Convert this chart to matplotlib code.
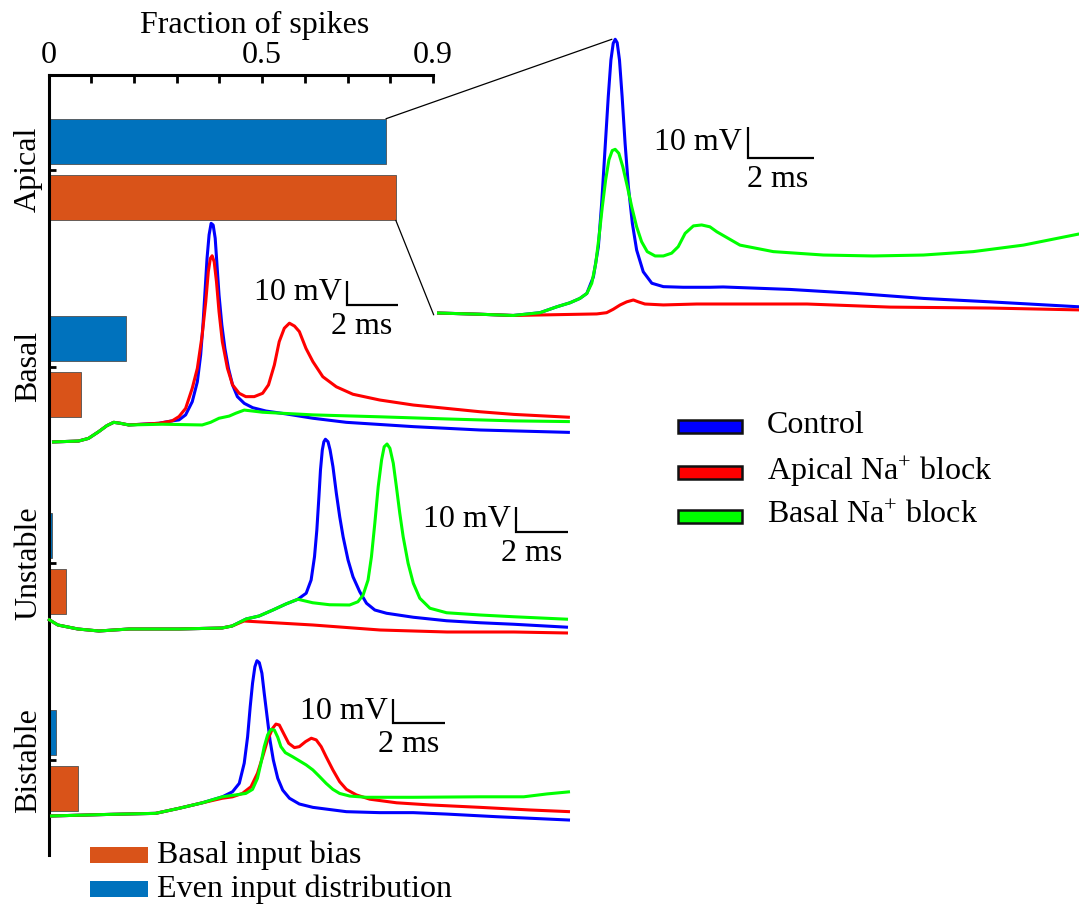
import numpy as np
import matplotlib
matplotlib.use("Agg")
import matplotlib.pyplot as plt
from matplotlib.patches import ConnectionPatch, Rectangle

plt.rcParams['font.family'] = ['Liberation Serif', 'DejaVu Serif']
plt.rcParams['mathtext.fontset'] = 'custom'
plt.rcParams['mathtext.rm'] = 'Liberation Serif'
plt.rcParams['mathtext.it'] = 'Liberation Serif:italic'

W, H = 1079, 905
FS = 23

# ---------------------------------------------------------------------------
# Bar data: fraction of spikes per condition
# ---------------------------------------------------------------------------
conditions = ['Apical', 'Basal', 'Unstable', 'Bistable']
even_frac = [0.790, 0.182, 0.009, 0.017]
bias_frac = [0.813, 0.075, 0.040, 0.070]
bar_labels = ['Basal input bias', 'Even input distribution']

# ---------------------------------------------------------------------------
# Voltage traces (t in ms, v in mV relative to rest)
# ctrl = Control, apna = Apical Na+ block, bana = Basal Na+ block
# ---------------------------------------------------------------------------
# Apical (magnified)
apical_t_ctrl = [0, 1.30, 2.31, 3.12, 3.63, 4.03, 4.33, 4.54, 4.74, 4.89, 4.99, 5.09, 5.19,
                 5.27, 5.34, 5.40, 5.46, 5.53, 5.61, 5.70, 5.80, 5.92, 6.05, 6.25, 6.51,
                 6.86, 7.46, 8.27, 8.67, 10.70, 12.72, 14.74, 16.76, 19.46]
apical_v_ctrl = [0, -0.4, -0.8, 0.1, 2.0, 3.3, 4.7, 6.3, 11.7, 21.4, 35.4, 52.6, 69.8,
                 81.6, 87.0, 88.3, 87.2, 81.6, 69.8, 54.7, 40.7, 28.9, 20.3, 13.3, 9.6,
                 8.5, 8.3, 8.3, 8.4, 7.6, 6.3, 4.7, 3.6, 2.0]
apical_t_apna = [0, 1.30, 2.31, 4.84, 5.14, 5.34, 5.55, 5.75, 5.95, 6.10, 6.30, 6.86, 7.87,
                 9.70, 11.21, 13.73, 16.76, 19.46]
apical_v_apna = [0, -0.4, -0.8, -0.3, 0.1, 1.2, 2.6, 3.6, 4.2, 3.6, 2.9, 2.6, 2.9,
                 2.9, 2.9, 1.9, 1.6, 1.0]
apical_t_bana = [0, 1.30, 2.31, 3.12, 3.63, 4.03, 4.33, 4.54, 4.69, 4.81, 4.91, 5.01, 5.11,
                 5.21, 5.31, 5.40, 5.51, 5.63, 5.77, 5.90, 6.05, 6.20, 6.37, 6.61, 6.86,
                 7.11, 7.31, 7.52, 7.77, 8.02, 8.27, 8.48, 9.18, 10.19, 11.71, 13.22, 14.74,
                 16.25, 17.77, 19.46]
apical_v_bana = [0, -0.4, -0.8, 0.1, 2.0, 3.3, 4.7, 6.3, 9.6, 16.0, 24.6, 34.3, 42.9,
                 49.4, 52.4, 52.8, 51.5, 47.2, 40.7, 34.3, 27.8, 23.0, 19.8, 18.4, 18.4,
                 19.3, 21.4, 25.7, 28.1, 28.4, 27.8, 26.2, 21.9, 19.8, 18.7, 18.4, 18.7,
                 19.8, 21.9, 25.5]

# Basal
basal_t_ctrl = [0, 1.04, 1.43, 1.83, 2.15, 2.42, 2.68, 3.01, 4.19, 4.71, 4.98, 5.24, 5.50,
                5.70, 5.83, 5.92, 6.00, 6.08, 6.16, 6.24, 6.32, 6.40, 6.47, 6.55, 6.66,
                6.78, 6.92, 7.08, 7.27, 7.54, 7.87, 8.39, 9.18, 10.23, 11.54, 14.17, 16.79,
                20.31]
basal_v_ctrl = [0, 0.4, 1.5, 4.3, 6.8, 8.2, 7.8, 7.1, 7.8, 8.8, 9.2, 11.3, 16.8,
                25.1, 36.3, 48.8, 62.6, 76.5, 86.3, 91.1, 90.4, 84.9, 73.8, 61.3, 48.8,
                39.0, 30.7, 23.8, 18.9, 16.1, 14.3, 12.9, 11.7, 9.9, 8.2, 6.4, 5.0,
                4.0]
basal_t_apna = [0, 1.04, 1.43, 1.83, 2.15, 2.42, 2.68, 3.01, 4.19, 4.71, 4.98, 5.24, 5.50,
                5.70, 5.89, 6.03, 6.13, 6.21, 6.28, 6.36, 6.45, 6.55, 6.68, 6.88, 7.08,
                7.34, 7.60, 7.93, 8.26, 8.49, 8.72, 8.91, 9.11, 9.31, 9.51, 9.70, 9.96,
                10.23, 10.62, 11.15, 11.80, 12.85, 14.17, 15.48, 16.79, 18.11, 20.31]
basal_v_apna = [0, 0.4, 1.5, 4.3, 6.8, 8.2, 7.8, 7.1, 7.8, 8.8, 10.6, 14.0, 22.4,
                30.7, 44.6, 58.5, 71.0, 76.5, 77.6, 75.1, 66.8, 54.3, 41.8, 30.7, 23.8,
                20.3, 18.9, 18.9, 20.3, 23.8, 32.1, 41.8, 47.4, 49.5, 48.3, 46.0, 39.0,
                33.5, 27.2, 23.0, 19.9, 17.5, 15.4, 14.0, 12.6, 11.5, 10.3]
basal_t_bana = [0, 1.04, 1.43, 1.83, 2.15, 2.42, 2.68, 3.01, 4.32, 5.89, 6.22, 6.55, 6.95,
                7.21, 7.54, 7.87, 8.26, 10.23, 12.85, 15.48, 18.11, 20.31]
basal_v_bana = [0, 0.4, 1.5, 4.3, 6.8, 8.2, 7.8, 7.1, 7.4, 7.1, 8.2, 9.9, 10.8,
                12.0, 13.3, 12.9, 12.4, 11.3, 10.5, 9.6, 8.8, 8.5]

# Unstable
unst_t_ctrl = [0, 0.38, 1.15, 1.96, 3.12, 5.04, 6.69, 7.08, 7.62, 8.12, 8.65, 9.15, 9.61,
               9.93, 10.12, 10.25, 10.34, 10.42, 10.48, 10.55, 10.61, 10.67, 10.77, 10.85,
               10.96, 11.09, 11.22, 11.35, 11.54, 11.73, 11.99, 12.25, 12.57, 13.02, 14.05,
               15.33, 16.62, 17.91, 20.0]
unst_v_ctrl = [4.0, 1.6, 0, -0.8, 0, 0, 0.4, 1.2, 4.0, 5.2, 7.6, 10.0, 11.9,
               14.3, 19.6, 28.9, 39.6, 52.9, 63.6, 71.6, 74.9, 75.9, 74.9, 71.6,
               64.9, 54.3, 44.9, 36.9, 27.6, 20.9, 14.9, 10.3, 7.6, 6.3, 4.7,
               3.3, 2.5, 1.9, 0.7]
unst_t_apna = [0, 0.38, 1.15, 1.96, 3.12, 5.04, 6.69, 7.08, 7.54, 10.19, 12.77, 15.35, 17.92, 20.0]
unst_v_apna = [4.0, 1.6, 0, -0.8, 0, 0, 0.4, 1.2, 3.2, 1.6, -0.4, -1.2, -1.2, -1.6]
unst_t_bana = [0, 0.38, 1.15, 1.96, 3.12, 5.04, 6.69, 7.08, 7.62, 8.12, 8.65, 9.15, 9.61,
               10.18, 10.83, 11.60, 11.92, 12.12, 12.31, 12.44, 12.57, 12.70, 12.83, 12.93,
               13.04, 13.15, 13.28, 13.40, 13.53, 13.66, 13.85, 14.05, 14.30, 14.69, 15.33,
               16.62, 17.91, 20.0]
unst_v_bana = [4.0, 1.6, 0, -0.8, 0, 0, 0.4, 1.2, 4.0, 5.2, 7.6, 10.0, 11.9,
               10.5, 9.7, 9.6, 10.9, 13.6, 19.6, 28.9, 42.3, 56.9, 67.6, 72.9,
               74.0, 72.3, 66.3, 56.9, 46.3, 36.9, 26.3, 18.3, 12.3, 8.3, 6.5,
               5.6, 4.9, 3.9]

# Bistable
bist_t_ctrl = [0, 2.38, 4.06, 4.96, 5.86, 6.63, 7.02, 7.28, 7.47, 7.60, 7.70, 7.79, 7.88,
               7.96, 8.05, 8.15, 8.24, 8.35, 8.46, 8.59, 8.76, 8.95, 9.21, 9.59, 10.11,
               11.40, 12.68, 13.97, 15.26, 17.19, 20.0]
bist_v_ctrl = [0, 0.7, 1.1, 3.2, 5.5, 8.0, 10.1, 13.6, 22.0, 33.0, 45.5, 55.3, 62.2,
               64.7, 63.9, 59.5, 51.1, 41.4, 31.7, 23.3, 15.7, 10.8, 7.4, 5.0, 3.6,
               1.8, 1.4, 1.4, 0.8, -0.3, -1.7]
bist_t_apna = [0, 2.38, 4.06, 4.96, 5.86, 6.63, 7.02, 7.40, 7.73, 7.98, 8.18, 8.37, 8.56,
               8.69, 8.82, 8.98, 9.18, 9.40, 9.59, 9.83, 10.05, 10.24, 10.43, 10.62, 10.88,
               11.14, 11.40, 11.78, 12.30, 13.33, 14.62, 16.55, 18.48, 20.0]
bist_v_apna = [0, 0.7, 1.1, 3.2, 5.5, 7.4, 8.0, 9.4, 12.2, 17.8, 24.7, 31.7, 36.5,
               38.3, 37.9, 34.5, 30.3, 28.5, 28.9, 31.0, 32.4, 31.7, 28.9, 24.7, 19.2,
               14.3, 11.1, 8.8, 7.0, 5.5, 4.6, 3.6, 2.5, 1.8]
bist_t_bana = [0, 2.38, 4.06, 4.96, 5.86, 6.63, 7.02, 7.53, 7.79, 7.98, 8.11, 8.24, 8.37,
               8.50, 8.63, 8.76, 8.88, 9.05, 9.33, 9.59, 9.85, 10.11, 10.37, 10.62, 10.88,
               11.14, 11.53, 12.17, 13.97, 16.55, 18.22, 19.12, 20.0]
bist_v_bana = [0, 0.7, 1.1, 3.2, 5.5, 8.0, 8.6, 9.4, 11.1, 15.7, 21.9, 28.9, 33.8,
               36.1, 35.8, 32.8, 28.9, 26.4, 24.7, 23.0, 21.3, 19.2, 16.4, 13.6, 11.1,
               9.4, 8.3, 7.8, 7.8, 8.0, 8.0, 9.2, 10.1]

trace_labels = ['Control', r'Apical Na$^{+}$ block', r'Basal Na$^{+}$ block']
trace_colors = ['#0000FF', '#FF0000', '#00FF00']
bar_colors = ['#D95319', '#0072BD']


def fig_box(x0, y0, x1, y1):
    # pixel box (top-left origin) -> figure fraction
    return [x0 / W, 1 - y1 / H, (x1 - x0) / W, (y1 - y0) / H]


def trace_axes(fig, x0, y0, sx, sy):
    # full-figure transparent axes: t=0 at pixel x0, v=0 at pixel y0
    ax = fig.add_axes([0, 0, 1, 1])
    ax.set_xlim(-x0 / sx, (W - x0) / sx)
    ax.set_ylim((y0 - H) / sy, y0 / sy)
    ax.axis('off')
    return ax


def scale_bar(ax, t, v):
    ax.plot([t, t, t + 2], [v + 10, v, v], color='k', lw=1.6,
            solid_joinstyle='miter', solid_capstyle='butt')
    ax.annotate('10 mV', xy=(t, v + 5), xytext=(-4, 0), textcoords='offset points',
                ha='right', va='center', fontsize=FS)
    ax.annotate('2 ms', xy=(t + 2, v), xytext=(-4, -5), textcoords='offset points',
                ha='right', va='top', fontsize=FS)


fig = plt.figure(figsize=(W / 100, H / 100), dpi=100)

# ---------------------------------------------------------------------------
# Bar chart
# ---------------------------------------------------------------------------
ax = fig.add_axes(fig_box(48.5, 75, 433, 855))
pos = np.arange(len(conditions))
b_bias = ax.barh(pos + 0.143, bias_frac, height=0.23, color=bar_colors[0],
                 edgecolor='#505050', linewidth=0.6)
b_even = ax.barh(pos - 0.143, even_frac, height=0.23, color=bar_colors[1],
                 edgecolor='#505050', linewidth=0.6)
ax.set_xlim(0, 0.9)
ax.set_ylim(3.48, -0.48)
ax.set_xticks(np.linspace(0, 0.9, 10))
ax.set_xticklabels(['0', '', '', '', '', '0.5', '', '', '', '0.9'])
ax.set_yticks(pos)
ax.set_yticklabels(conditions, rotation=90, va='center')
ax.tick_params(axis='x', top=True, bottom=False, labeltop=True, labelbottom=False,
               direction='in', length=6, width=2, pad=3.5, labelsize=FS)
ax.tick_params(axis='y', direction='in', length=5, width=2, pad=4, labelsize=FS)
for s in ['right', 'bottom']:
    ax.spines[s].set_visible(False)
for s in ['left', 'top']:
    ax.spines[s].set_linewidth(2.2)
ax.set_xlabel('Fraction of spikes', fontsize=FS)
ax.xaxis.set_label_position('top')
ax.xaxis.label.set_va('center')
ax.xaxis.set_label_coords(0.537, 1.064)
ax.patch.set_alpha(0)

# ---------------------------------------------------------------------------
# Trace panels
# ---------------------------------------------------------------------------
panels = [
    (437, 313, 33.0, 3.1, (9.42, 50.0),
     [(apical_t_ctrl, apical_v_ctrl), (apical_t_apna, apical_v_apna), (apical_t_bana, apical_v_bana)]),
    (52, 442, 25.5, 2.4, (11.57, 57.1),
     [(basal_t_ctrl, basal_v_ctrl), (basal_t_apna, basal_v_apna), (basal_t_bana, basal_v_bana)]),
    (48, 629, 26.0, 2.5, (18.0, 38.8),
     [(unst_t_ctrl, unst_v_ctrl), (unst_t_apna, unst_v_apna), (unst_t_bana, unst_v_bana)]),
    (50, 816, 26.0, 2.4, (13.19, 38.75),
     [(bist_t_ctrl, bist_v_ctrl), (bist_t_apna, bist_v_apna), (bist_t_bana, bist_v_bana)]),
]
trace_axs = []
for x0, y0, sx, sy, sb, traces in panels:
    tax = trace_axes(fig, x0, y0, sx, sy)
    for (t, v), c in zip(traces, trace_colors):
        tax.plot(t, v, color=c, lw=2.2, solid_joinstyle='round', solid_capstyle='butt')
    scale_bar(tax, *sb)
    trace_axs.append(tax)

# zoom lines from apical bars to magnified apical traces
ap = trace_axs[0]
i_pk = int(np.argmax(apical_v_ctrl))
con1 = ConnectionPatch(xyA=(even_frac[0], -0.143 - 0.115), coordsA=ax.transData,
                       xyB=(apical_t_ctrl[i_pk] - 0.1, apical_v_ctrl[i_pk]), coordsB=ap.transData,
                       color='k', lw=0.9)
con2 = ConnectionPatch(xyA=(bias_frac[0], 0.143 + 0.115), coordsA=ax.transData,
                       xyB=(apical_t_bana[0] - 0.1, apical_v_bana[0] - 0.6), coordsB=ap.transData,
                       color='k', lw=0.9)
fig.add_artist(con1)
fig.add_artist(con2)

# ---------------------------------------------------------------------------
# Legends (drawn by hand, pixel layout)
# ---------------------------------------------------------------------------
for i, (lab, c) in enumerate(zip(trace_labels, trace_colors)):
    yc = [426, 472.5, 516][i]
    fig.add_artist(Rectangle((678 / W, 1 - (yc + 6.5) / H), 64 / W, 13 / H,
                             transform=fig.transFigure, facecolor=c,
                             edgecolor='#111111', linewidth=1.8))
    fig.text(767 / W, 1 - (yc + 7) / H, lab, fontsize=FS, va='baseline', ha='left')

for i, (lab, c) in enumerate(zip(bar_labels, bar_colors)):
    yc = [855, 888.5][i]
    fig.add_artist(Rectangle((90 / W, 1 - (yc + 8) / H), 58 / W, 16 / H,
                             transform=fig.transFigure, facecolor=c, edgecolor='none'))
    fig.text(157 / W, 1 - (yc + 8) / H, lab, fontsize=FS, va='baseline', ha='left')

fig.savefig('out.png', dpi=100)
